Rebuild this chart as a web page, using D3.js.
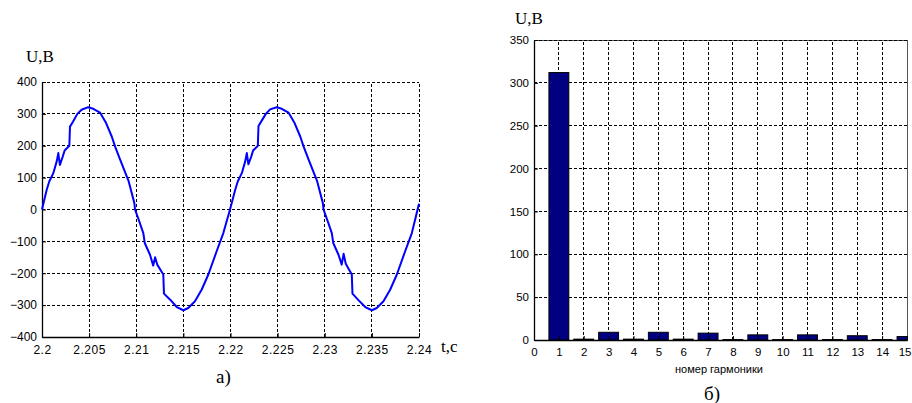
<!DOCTYPE html>
<html>
<head>
<meta charset="utf-8">
<script src="https://cdn.jsdelivr.net/npm/d3@7"></script>
<style>
  html, body { margin: 0; padding: 0; background: #fff; }
  svg { display: block; }
</style>
</head>
<body>
<script>
// ---------- DATA ----------
// Left chart: time (s) and voltage (V)
const waveT = [
  2.2000, 2.2005, 2.20077, 2.2012, 2.20156, 2.20173, 2.2019, 2.2022, 2.2024, 2.2029,
  2.20297, 2.2033, 2.20375, 2.2042, 2.2049, 2.20544, 2.20615, 2.2068, 2.2074, 2.20775,
  2.2083, 2.2092, 2.2098, 2.20987, 2.21032, 2.21075, 2.2109, 2.21146, 2.2118, 2.2120,
  2.21223, 2.21287, 2.21294, 2.2136, 2.2143, 2.2150, 2.21552, 2.21623, 2.21695, 2.21765,
  2.21853, 2.21924, 2.21995,
  2.2205, 2.22077, 2.2212, 2.22156, 2.22173, 2.2219, 2.2222, 2.2224, 2.2229,
  2.22297, 2.2233, 2.22375, 2.2242, 2.2249, 2.22544, 2.22615, 2.2268, 2.2274, 2.22775,
  2.2283, 2.2292, 2.2298, 2.22987, 2.23032, 2.23075, 2.2309, 2.23146, 2.2318, 2.2320,
  2.23223, 2.23287, 2.23294, 2.2336, 2.2343, 2.2350, 2.23552, 2.23623, 2.23695, 2.23765,
  2.23853, 2.23924, 2.2400
];
const waveU = [
  0, 62, 88, 114, 151, 177, 140, 166, 185, 200,
  260, 276, 300, 313, 321, 316, 304, 271, 229, 198,
  156, 88, 20, 0, -37, -74, -105, -142, -176, -150,
  -173, -204, -264, -283, -306, -316, -309, -288, -251, -204,
  -131, -74, 0,
  62, 88, 114, 151, 177, 142, 166, 185, 200,
  262, 278, 300, 314, 321, 316, 304, 271, 229, 198,
  156, 88, 20, 0, -37, -74, -105, -142, -173, -139,
  -170, -204, -264, -285, -306, -316, -309, -288, -251, -204,
  -131, -74, 18
];
const leftXTicks = [2.2, 2.205, 2.21, 2.215, 2.22, 2.225, 2.23, 2.235, 2.24];
const leftXLabels = ["2.2", "2.205", "2.21", "2.215", "2.22", "2.225", "2.23", "2.235", "2.24"];
const leftYTicks = [-400, -300, -200, -100, 0, 100, 200, 300, 400];

// Right chart: harmonic number and amplitude (V)
const harmonics = [1, 2, 3, 4, 5, 6, 7, 8, 9, 10, 11, 12, 13, 14, 15];
const harmU = [312, 1, 9, 1, 9, 1, 8, 0.5, 6, 0.5, 6, 0.5, 5, 0.5, 4];
const rightXTicks = [0, 1, 2, 3, 4, 5, 6, 7, 8, 9, 10, 11, 12, 13, 14, 15];
const rightYTicks = [0, 50, 100, 150, 200, 250, 300, 350];

// ---------- DRAW ----------
const W = 912, H = 403;
const svg = d3.select("body").append("svg").attr("width", W).attr("height", H);
svg.append("rect").attr("width", W).attr("height", H).attr("fill", "#fff");

const sans = "Arial, 'Liberation Sans', sans-serif";
const serif = "'Times New Roman', 'Liberation Serif', serif";
const dash = "3,2";

// ===== Left chart =====
const lx = d3.scaleLinear().domain([2.2, 2.24]).range([42, 419]);
const ly = d3.scaleLinear().domain([-400, 400]).range([337, 82]);
const L = svg.append("g");

// grid
L.selectAll(".vg").data(leftXTicks.slice(1)).join("line")
  .attr("x1", d => lx(d)).attr("x2", d => lx(d))
  .attr("y1", ly(-400)).attr("y2", ly(400))
  .attr("stroke", "#000").attr("stroke-width", 1).attr("stroke-dasharray", dash)
  .attr("shape-rendering", "crispEdges");
L.selectAll(".hg").data(leftYTicks.slice(1)).join("line")
  .attr("x1", lx(2.2)).attr("x2", lx(2.24))
  .attr("y1", d => ly(d)).attr("y2", d => ly(d))
  .attr("stroke", "#000").attr("stroke-width", 1).attr("stroke-dasharray", dash)
  .attr("shape-rendering", "crispEdges");

// axes
const lxAxis = d3.axisBottom(lx).tickValues(leftXTicks)
  .tickFormat((d, i) => leftXLabels[i]).tickSizeInner(-4).tickSizeOuter(0).tickPadding(8);
const lyAxis = d3.axisLeft(ly).tickValues(leftYTicks)
  .tickFormat(d3.format("d")).tickSizeInner(-4).tickSizeOuter(0).tickPadding(6);
const gx = L.append("g").attr("transform", `translate(0,${ly(-400)})`).call(lxAxis);
const gy = L.append("g").attr("transform", `translate(${lx(2.2)},0)`).call(lyAxis);
[gx, gy].forEach(g => {
  g.select(".domain").attr("stroke", "#000").attr("stroke-width", 1.3);
  g.selectAll(".tick line").attr("stroke", "#000");
  g.selectAll("text").attr("font-family", sans).attr("font-size", 12).attr("fill", "#000");
});
gx.selectAll("text").attr("dy", "0.71em").attr("letter-spacing", "0.5px");
gy.selectAll("text").attr("dx", "1");

// waveform
const wave = waveT.map((t, i) => [t, waveU[i]]);
L.append("path").datum(wave)
  .attr("d", d3.line().x(d => lx(d[0])).y(d => ly(d[1])))
  .attr("fill", "none").attr("stroke", "#0000ff").attr("stroke-width", 2)
  .attr("stroke-linejoin", "round");

// labels
L.append("text").attr("x", 26).attr("y", 62).text("U,B")
  .attr("font-family", serif).attr("font-size", 17);
L.append("text").attr("x", 441).attr("y", 352).text("t,c")
  .attr("font-family", serif).attr("font-size", 17);
L.append("text").attr("x", 216).attr("y", 383).text("а)")
  .attr("font-family", serif).attr("font-size", 19);

// ===== Right chart =====
const rx = d3.scaleLinear().domain([0, 15]).range([534, 907]);
const ry = d3.scaleLinear().domain([0, 350]).range([340, 40]);
const R = svg.append("g");

R.append("clipPath").attr("id", "rclip").append("rect")
  .attr("x", rx(0)).attr("y", ry(350)).attr("width", rx(15) - rx(0)).attr("height", ry(0) - ry(350));

// box
R.append("rect").attr("x", rx(0)).attr("y", ry(350))
  .attr("width", rx(15) - rx(0)).attr("height", ry(0) - ry(350))
  .attr("fill", "none").attr("stroke", "#555").attr("stroke-width", 1)
  .attr("shape-rendering", "crispEdges");

// grid
R.selectAll(".vg").data(rightXTicks.slice(1, -1)).join("line")
  .attr("x1", d => rx(d)).attr("x2", d => rx(d))
  .attr("y1", ry(0)).attr("y2", ry(350))
  .attr("stroke", "#000").attr("stroke-dasharray", dash).attr("shape-rendering", "crispEdges");
R.selectAll(".hg").data(rightYTicks.slice(1)).join("line")
  .attr("x1", rx(0)).attr("x2", rx(15))
  .attr("y1", d => ry(d)).attr("y2", d => ry(d))
  .attr("stroke", "#000").attr("stroke-dasharray", dash).attr("shape-rendering", "crispEdges");

// bars
const bw = rx(0.8) - rx(0);
R.append("g").attr("clip-path", "url(#rclip)")
  .selectAll("rect").data(harmonics).join("rect")
  .attr("x", (d) => rx(d) - bw / 2)
  .attr("width", bw)
  .attr("y", (d, i) => ry(harmU[i]))
  .attr("height", (d, i) => ry(0) - ry(harmU[i]))
  .attr("fill", "#000080").attr("stroke", "#000").attr("stroke-width", 1);

// axes
const rxAxis = d3.axisBottom(rx).tickValues(rightXTicks).tickFormat(d3.format("d"))
  .tickSizeInner(-4).tickSizeOuter(0).tickPadding(8);
const ryAxis = d3.axisLeft(ry).tickValues(rightYTicks).tickFormat(d3.format("d"))
  .tickSizeInner(-4).tickSizeOuter(0).tickPadding(5);
const rgx = R.append("g").attr("transform", `translate(0,${ry(0)})`).call(rxAxis);
const rgy = R.append("g").attr("transform", `translate(${rx(0)},0)`).call(ryAxis);
[rgx, rgy].forEach(g => {
  g.select(".domain").attr("stroke", "#000").attr("stroke-width", 1.3);
  g.selectAll(".tick line").attr("stroke", "#000");
  g.selectAll("text").attr("font-family", sans).attr("font-size", 11.5).attr("fill", "#000");
});
rgx.selectAll("text").attr("dy", "0.71em");
// keep the last label inside the picture
rgx.selectAll(".tick text").filter(d => d === 15).attr("text-anchor", "end").attr("dx", 4);

// labels
R.append("text").attr("x", 515).attr("y", 24).text("U,B")
  .attr("font-family", serif).attr("font-size", 17);
R.append("text").attr("x", 719).attr("y", 373).attr("text-anchor", "middle")
  .text("номер гармоники").attr("font-family", sans).attr("font-size", 11);
R.append("text").attr("x", 704).attr("y", 400).text("б)")
  .attr("font-family", serif).attr("font-size", 19);
</script>
</body>
</html>
